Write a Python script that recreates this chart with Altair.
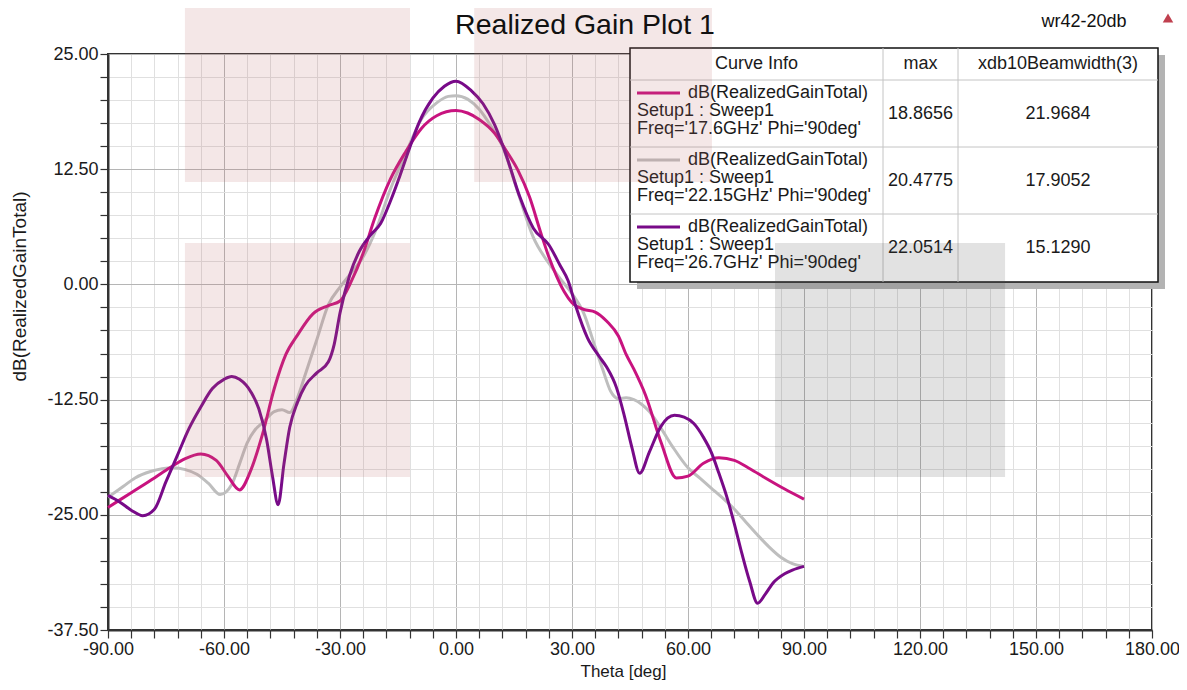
import altair as alt
import pandas as pd

FONT = "Liberation Sans"

# ---------------- data ----------------
series_names = ["Freq='17.6GHz'", "Freq='22.15GHz'", "Freq='26.7GHz'"]
series_colors = ["#C8137F", "#BEBEBE", "#780A88"]

theta_176 = [-90, -84, -78, -74, -70, -66, -62, -59, -56, -53, -50, -47, -44, -41, -37, -33, -30,
             -27, -24, -21, -17, -13, -9, -5, 0, 3, 6, 10, 13, 16, 19, 22, 24, 26, 28, 30, 33, 36,
             39, 42, 44, 46, 49, 53, 57, 60, 64, 68, 72, 76, 80, 85, 90]
gain_176 = [-24.2, -22.6, -21.0, -19.9, -18.9, -18.4, -19.1, -20.8, -22.3, -20.1, -16.2, -11.3, -7.6,
            -5.5, -3.2, -2.3, -1.8, 0.4, 3.4, 7.2, 11.4, 14.4, 16.9, 18.3, 18.87, 18.6, 17.9, 16.4,
            14.5, 12.4, 9.5, 5.5, 3.0, 0.9, -0.8, -2.0, -2.7, -3.0, -4.0, -5.6, -7.6, -9.2, -12.0,
            -17.1, -21.0, -20.8, -19.4, -18.8, -19.1, -20.0, -21.0, -22.2, -23.3]

theta_2215 = [-90, -86, -83, -79, -76, -73, -70, -67, -64, -61, -58, -56, -54, -52, -50, -47, -45,
              -43, -41, -39, -36, -33, -30, -27, -24, -21, -17, -13, -9, -5, -2, 0, 3, 6, 9, 12,
              16, 20, 24, 27, 30, 33, 36, 38, 40, 42, 44, 46, 48, 50, 53, 56, 60, 63, 66, 69, 72,
              75, 78, 81, 84, 87, 90]
gain_2215 = [-23.1, -21.9, -21.0, -20.3, -20.0, -19.9, -20.1, -20.6, -21.6, -22.8, -21.7, -19.5,
             -17.2, -15.8, -15.0, -13.8, -13.6, -13.9, -12.3, -9.8, -6.0, -2.2, -0.3, 1.3, 3.0,
             5.6, 10.3, 14.2, 17.9, 19.7, 20.4, 20.48, 20.1, 19.0, 17.2, 15.0, 10.0, 5.1, 2.3,
             0.6, -1.0, -3.1, -6.8, -9.3, -11.6, -12.4, -12.3, -12.5, -13.0, -13.8, -15.6, -17.6,
             -19.9, -21.0, -22.1, -23.2, -24.4, -25.8, -27.2, -28.5, -29.6, -30.3, -30.6]

theta_267 = [-90, -87, -84, -81, -78, -75, -72, -69, -66, -63, -60, -58, -56, -53, -51, -49, -47.5,
             -46, -44.5, -43, -41, -39, -36, -33, -31.5, -30, -27.5, -25, -22, -19.5, -17, -14.5,
             -12, -9.5, -6, -3, 0, 4, 7, 10, 13, 16.5, 20, 24, 27, 29, 31, 34, 37, 39, 41.5, 43.5,
             45.5, 47.5, 50, 53, 56.5, 59, 61.5, 64, 66, 68, 70, 72, 74, 76, 78, 80, 82, 85, 87, 90]
gain_267 = [-22.9, -23.6, -24.5, -25.1, -24.4, -21.4, -18.5, -15.6, -13.3, -11.3, -10.3, -10.0,
            -10.3, -11.7, -13.5, -16.8, -20.7, -23.9, -19.5, -15.5, -12.8, -11.0, -9.6, -8.4,
            -6.5, -3.1, 1.0, 3.6, 5.4, 6.6, 9.0, 11.8, 14.8, 17.6, 20.2, 21.5, 22.05, 21.0, 19.6,
            17.3, 14.0, 9.5, 6.1, 4.3, 2.0, 0.4, -2.4, -5.8, -7.8, -9.0, -11.2, -14.2, -17.7,
            -20.5, -18.2, -15.4, -14.2, -14.4, -15.1, -16.6, -18.2, -20.5, -23.0, -26.0, -29.3,
            -32.3, -34.6, -33.6, -32.4, -31.4, -31.0, -30.6]

chart_title = "Realized Gain Plot 1"
project_name = "wr42-20db"
x_title = "Theta [deg]"
y_title = "dB(RealizedGainTotal)"

legend_header = ["Curve Info", "max", "xdb10Beamwidth(3)"]
legend_expr = "dB(RealizedGainTotal)"
legend_setup = "Setup1 : Sweep1"
legend_freq = ["Freq='17.6GHz' Phi='90deg'", "Freq='22.15GHz' Phi='90deg'",
               "Freq='26.7GHz' Phi='90deg'"]
legend_max = ["18.8656", "20.4775", "22.0514"]
legend_beamwidth = ["21.9684", "17.9052", "15.1290"]

x_ticks = list(range(-90, 181, 6))
y_ticks = [-37.5 + 2.5 * i for i in range(26)]

# translucent overlay regions seen on the picture (theta / gain units)
overlay_theta0 = [-70.1, -70.1, 4.7, 82.5]
overlay_theta1 = [-11.9, -11.9, 66.2, 142.0]
overlay_gain0 = [30.9, 4.5, 30.9, 4.5]
overlay_gain1 = [11.1, -20.9, 11.1, -20.9]
overlay_kind = ["pink", "pink", "pink", "gray"]

# ---------------- build ----------------
thetas = [theta_176, theta_2215, theta_267]
gains = [gain_176, gain_2215, gain_267]
frames = []
for i in [1, 0, 2]:
    frames.append(pd.DataFrame({"theta": thetas[i], "gain": gains[i], "series": series_names[i]}))
df = pd.concat(frames, ignore_index=True)

W, H = 1044, 576
xs = alt.Scale(domain=[-90, 180], nice=False, zero=False)
ys = alt.Scale(domain=[-37.5, 25], nice=False, zero=False)

fmt = "replace(format(datum.value, '.2f'), '\u2212', '-')"
TXT = "#1a1a1a"

xaxis = alt.Axis(
    values=x_ticks, tickCount=200,
    labelExpr=f"datum.value % 30 === 0 ? {fmt} : ''",
    labelOverlap=False, labelFlush=False,
    labelFont=FONT, labelFontSize=18, labelColor=TXT, labelPadding=2,
    tickColor="#333333", tickSize=8, tickWidth=1.2,
    domainColor="#333333", domainWidth=2,
    grid=True,
    gridColor={"condition": {"test": "datum.value % 30 === 0", "value": "#b5b5b5"}, "value": "#e0e0e0"},
    gridWidth=1,
    title=x_title, titleFont=FONT, titleFontSize=17, titleFontWeight="normal", titleColor=TXT,
    titleX=515, titleY=41, titleBaseline="middle", titleAlign="center",
)
yaxis = alt.Axis(
    values=y_ticks, tickCount=200,
    labelExpr=f"abs(datum.value % 12.5) < 0.001 ? {fmt} : ''",
    labelOverlap=False, labelFlush=False,
    labelFont=FONT, labelFontSize=18, labelColor=TXT, labelPadding=2,
    tickColor="#333333", tickSize=8, tickWidth=1.2,
    domainColor="#333333", domainWidth=2,
    grid=True,
    gridColor={"condition": {"test": "abs(datum.value % 12.5) < 0.001", "value": "#b5b5b5"}, "value": "#e0e0e0"},
    gridWidth=1,
    title=y_title, titleFont=FONT, titleFontSize=19, titleFontWeight="normal", titleColor=TXT,
    titleX=-89, titleY=232, titleAngle=270, titleBaseline="middle", titleAlign="center",
)

lines = alt.Chart(df).mark_line(strokeWidth=3, interpolate="monotone").encode(
    x=alt.X("theta:Q", scale=xs, axis=xaxis),
    y=alt.Y("gain:Q", scale=ys, axis=yaxis),
    color=alt.Color("series:N", scale=alt.Scale(domain=series_names, range=series_colors), legend=None),
)

# ---- legend table (pixel layout inside the plot area) ----
LX0, LX1, LY0, LY1 = 522, 1050, -6, 228
COL1, COL2 = 775, 850
ROW_TOPS = [26, 93, 160]

px = lambda f: alt.X(f, scale=None)
py = lambda f: alt.Y(f, scale=None)

shadow = alt.Chart(pd.DataFrame({"a": [0]})).mark_rect(color="#b3b3b3").encode(
    x=alt.value(LX0 + 7), x2=alt.value(LX1 + 7), y=alt.value(LY0 + 7), y2=alt.value(LY1 + 7))
box = alt.Chart(pd.DataFrame({"a": [0]})).mark_rect(fill="white", stroke="#111111", strokeWidth=1.5).encode(
    x=alt.value(LX0), x2=alt.value(LX1), y=alt.value(LY0), y2=alt.value(LY1))

sep = pd.DataFrame({
    "x0": [COL1, COL2] + [LX0] * 3,
    "x1": [COL1, COL2] + [LX1] * 3,
    "y0": [LY0, LY0] + ROW_TOPS,
    "y1": [LY1, LY1] + ROW_TOPS,
})
seps = alt.Chart(sep).mark_rule(color="#c4c4c4", strokeWidth=1).encode(
    x=px("x0:Q"), x2="x1:Q", y=py("y0:Q"), y2="y1:Q")

samples = alt.Chart(pd.DataFrame({
    "series": series_names,
    "y": [t + 13 for t in ROW_TOPS],
})).mark_rule(strokeWidth=3).encode(
    x=alt.value(529), x2=alt.value(572), y=py("y:Q"),
    color=alt.Color("series:N", scale=alt.Scale(domain=series_names, range=series_colors), legend=None))

left_txt = pd.DataFrame({
    "text": [legend_expr] * 3 + [legend_setup] * 3 + legend_freq,
    "x": [580] * 3 + [529] * 6,
    "y": [t + 13 for t in ROW_TOPS] + [t + 31 for t in ROW_TOPS] + [t + 49 for t in ROW_TOPS],
})
center_txt = pd.DataFrame({
    "text": legend_header + legend_max + legend_beamwidth,
    "x": [(LX0 + COL1) / 2, (COL1 + COL2) / 2, (COL2 + LX1) / 2] + [(COL1 + COL2) / 2] * 3 + [(COL2 + LX1) / 2] * 3,
    "y": [(LY0 + ROW_TOPS[0]) / 2] * 3 + [t + 33.5 for t in ROW_TOPS] * 2,
})
ltext = alt.Chart(left_txt).mark_text(font=FONT, fontSize=18, color=TXT, align="left", baseline="middle").encode(
    x=px("x:Q"), y=py("y:Q"), text="text:N")
ctext = alt.Chart(center_txt).mark_text(font=FONT, fontSize=18, color=TXT, align="center", baseline="middle").encode(
    x=px("x:Q"), y=py("y:Q"), text="text:N")

# ---- translucent overlay regions ----
ov = pd.DataFrame({"t0": overlay_theta0, "t1": overlay_theta1, "g0": overlay_gain0, "g1": overlay_gain1,
                   "kind": overlay_kind})
overlay = alt.Chart(ov).mark_rect(opacity=0.16).encode(
    x=alt.X("t0:Q", scale=xs), x2="t1:Q",
    y=alt.Y("g0:Q", scale=ys), y2="g1:Q",
    fill=alt.Fill("kind:N", scale=alt.Scale(domain=["pink", "gray"], range=["#B86B6B", "#4A4A4A"]), legend=None),
)

# ---- titles ----
title = alt.Chart(pd.DataFrame({"t": [chart_title]})).mark_text(
    font=FONT, fontSize=28.5, color="#111111", align="center", baseline="middle").encode(
    text="t:N", x=alt.value(477), y=alt.value(-29))
proj = alt.Chart(pd.DataFrame({"t": [project_name]})).mark_text(
    font=FONT, fontSize=18, color="#111111", align="center", baseline="middle").encode(
    text="t:N", x=alt.value(976), y=alt.value(-32))
logo = alt.Chart(pd.DataFrame({"a": [0]})).mark_point(
    shape="triangle-up", filled=True, color="#c0404f", size=110, opacity=1).encode(
    x=alt.value(1060), y=alt.value(-36))

chart = alt.layer(lines, shadow, box, seps, samples, ltext, ctext, overlay, title, proj, logo).properties(
    width=W, height=H,
    padding={"left": 100, "top": 46, "right": 27, "bottom": 50},
    autosize=alt.AutoSizeParams(type="none"),
    background="white",
).configure_view(stroke="#333333", strokeWidth=2)

chart.save("out.html", embed_options={"renderer": "svg", "actions": False})
